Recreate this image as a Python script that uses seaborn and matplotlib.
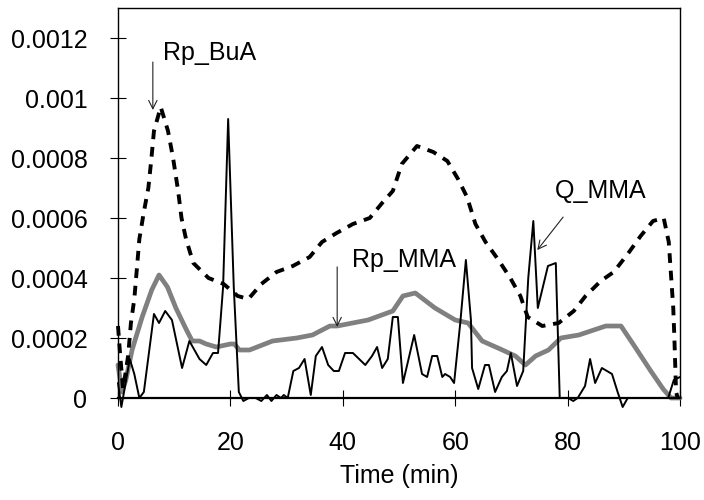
"""Rp_BuA, Rp_MMA and Q_MMA against time, black and white line chart."""

import matplotlib
matplotlib.use("Agg")
import matplotlib.pyplot as plt
import pandas as pd
import seaborn as sns

# Rp_BuA (thick dashed black)
t_bua = [0, 0.4, 0.9, 1.8, 2.3, 2.9, 3.4, 3.8, 4.6, 5.4, 5.9, 6.4, 7.6, 8.9, 9.8,
         10.7, 11.3, 12.1, 13.4, 16.1, 18.8, 21.3, 23.2, 25.5, 28.2, 31.1, 34.1,
         36.3, 38.9, 41.8, 44.8, 47.0, 48.9, 50.5, 53.2, 56.1, 58.6, 60.5, 62.1,
         63.6, 65.4, 67.7, 69.8, 71.6, 72.9, 75.5, 78.4, 81.1, 83.2, 85.9, 88.2,
         90.7, 93.0, 95.2, 97.1, 98.0, 98.4, 98.8, 99.0, 99.3, 99.6]
v_bua = [0.00024, 0.00014, 0.00003, 0.00014, 0.00025, 0.00033, 0.00044, 0.00053,
         0.00062, 0.0007, 0.00079, 0.00089, 0.00097, 0.00089, 0.0008, 0.00069,
         0.0006, 0.00053, 0.00045, 0.0004, 0.00038, 0.00034, 0.00033, 0.00038,
         0.00042, 0.00044, 0.00047, 0.00052, 0.00055, 0.00058, 0.0006, 0.00065,
         0.00069, 0.00078, 0.00084, 0.00082, 0.00079, 0.00073, 0.00067, 0.00058,
         0.00052, 0.00046, 0.0004, 0.00034, 0.00027, 0.00024, 0.00025, 0.00029,
         0.00034, 0.00039, 0.00042, 0.00048, 0.00054, 0.00059, 0.0006, 0.00052,
         0.00041, 0.0003, 0.0002, 0.00002, 0.0]

# Rp_MMA (thick grey)
t_mma = [0, 0.7, 1.4, 2.5, 4.3, 6.0, 7.3, 8.8, 10.3, 12.1, 13.2, 14.5, 15.7, 17.5,
         20.0, 20.7, 21.6, 23.4, 27.5, 31.8, 34.6, 37.7, 39.0, 44.5, 48.9, 50.7,
         52.9, 56.4, 60.0, 62.3, 64.8, 68.4, 70.7, 72.5, 74.3, 76.6, 78.8, 82.0,
         86.8, 89.5, 92.0, 94.8, 97.0, 98.4, 100]
v_mma = [0.00011, 0.00002, 0.00006, 0.00016, 0.00027, 0.00036, 0.00041, 0.00037,
         0.0003, 0.00023, 0.00019, 0.00019, 0.00018, 0.00017, 0.00018, 0.00018,
         0.00016, 0.00016, 0.00019, 0.0002, 0.00021, 0.00024, 0.00024, 0.00026,
         0.00029, 0.00034, 0.00035, 0.0003, 0.00026, 0.00025, 0.00019, 0.00016,
         0.00014, 0.00011, 0.00014, 0.00016, 0.0002, 0.00021, 0.00024, 0.00024,
         0.00017, 0.00009, 0.00003, 0.0, 0.0]

# Q_MMA (thin black)
t_q = [0, 0.6, 2.1, 2.9, 3.8, 4.6, 6.4, 7.3, 8.4, 9.6, 10.5, 11.4, 12.7, 13.6,
       14.5, 15.7, 16.9, 17.8, 18.7, 19.6, 20.6, 21.5, 22.3, 23.3, 24.5, 25.5,
       26.5, 27.3, 28.2, 29.0, 29.5, 30.2, 31.2, 32.2, 33.2, 34.3, 35.2, 36.3,
       37.4, 38.4, 39.3, 40.4, 41.8, 44.0, 45.2, 46.1, 47.0, 48.0, 48.9, 49.8,
       50.7, 52.7, 54.1, 55.0, 55.9, 56.8, 57.7, 58.2, 59.1, 59.8, 60.9, 61.9,
       62.8, 63.0, 64.1, 65.3, 66.0, 67.1, 68.3, 69.2, 69.9, 71.0, 72.1, 73.0,
       73.9, 74.7, 75.6, 76.5, 77.9, 78.6, 79.2, 80.1, 81.0, 81.8, 83.1, 84.0,
       84.9, 86.1, 87.9, 88.9, 89.8, 90.7, 97.9, 98.9, 100.0]
v_q = [0.00005, -0.00003, 0.00013, 0.00008, 0.0, 0.00002, 0.00028, 0.00025,
       0.00029, 0.00026, 0.00018, 0.0001, 0.00019, 0.00016, 0.00013, 0.00011,
       0.00015, 0.00015, 0.00037, 0.00093, 0.00037, 0.00002, -0.00001, 0.0, 0.0,
       -0.00001, 0.00001, -0.00001, 0.00001, 0.0, 0.00001, 0.0, 0.00009, 0.0001,
       0.00013, 0.00001, 0.00014, 0.00017, 0.00011, 0.00009, 0.00009, 0.00015,
       0.00015, 0.00011, 0.00014, 0.00017, 0.0001, 0.00013, 0.00027, 0.00027,
       0.00005, 0.00021, 0.00008, 0.00007, 0.00014, 0.00014, 0.00007, 0.00008,
       0.00007, 0.00005, 0.00025, 0.00046, 0.00026, 0.0001, 0.00003, 0.00011,
       0.00011, 0.00002, 0.00007, 0.00009, 0.00015, 0.00004, 0.00009, 0.0004,
       0.00059, 0.0003, 0.00037, 0.00044, 0.00045, 0.0, 0.0, 0.0, -0.00001, 0.0,
       0.00004, 0.00013, 0.00005, 0.0001, 0.00008, 0.00002, -0.00003, 0.0, 0.0,
       0.00006, 0.00007]

y_ticks = [0, 0.0002, 0.0004, 0.0006, 0.0008, 0.001, 0.0012]
y_tick_labels = ["0", "0.0002", "0.0004", "0.0006", "0.0008", "0.001", "0.0012"]
x_ticks = [0, 20, 40, 60, 80, 100]


def main() -> None:
    sns.set_style("white")
    plt.rcParams["font.family"] = ["Liberation Sans", "DejaVu Sans"]
    plt.rcParams["text.color"] = "black"
    plt.rcParams["axes.labelcolor"] = "black"
    fs = 18

    fig, ax = plt.subplots(figsize=(7.04, 5.0), dpi=100)
    fig.subplots_adjust(left=118 / 704, right=680 / 704,
                        bottom=1 - 398 / 500, top=1 - 8 / 500)

    df_bua = pd.DataFrame({"t": t_bua, "v": v_bua})
    df_mma = pd.DataFrame({"t": t_mma, "v": v_mma})
    df_q = pd.DataFrame({"t": t_q, "v": v_q})

    sns.lineplot(data=df_q, x="t", y="v", ax=ax, color="black", lw=1.4,
                 clip_on=False, zorder=3)
    sns.lineplot(data=df_mma, x="t", y="v", ax=ax, color="#808080", lw=3.4,
                 clip_on=False, zorder=2)
    sns.lineplot(data=df_bua, x="t", y="v", ax=ax, color="black", lw=2.8,
                 dashes=False, clip_on=False, zorder=4)
    # thick dashes for Rp_BuA
    ax.lines[-1].set_dashes((2.5, 2.0))
    ax.lines[-1].set_dash_capstyle("butt")

    ax.set_xlim(0, 100)
    ax.set_ylim(0, 0.0013)
    ax.set_xticks(x_ticks)
    ax.set_xticklabels([str(x) for x in x_ticks], fontsize=fs)
    ax.set_yticks(y_ticks)
    ax.set_yticklabels(y_tick_labels, fontsize=fs)
    ax.tick_params(direction="inout", length=12, width=0.8, color="black",
                   labelcolor="black", left=True, bottom=True)
    ax.tick_params(axis="y", pad=16)
    ax.tick_params(axis="x", pad=18)
    ax.set_xlabel("Time (min)", fontsize=fs, labelpad=6, color="black")
    ax.set_ylabel("")

    for side in ["top", "right", "left"]:
        ax.spines[side].set_color("black")
        ax.spines[side].set_linewidth(1.0)
    ax.spines["bottom"].set_color("black")
    ax.spines["bottom"].set_linewidth(1.6)

    arrow = dict(arrowstyle="->, head_length=0.6, head_width=0.3",
                 color="#222222", lw=0.8, shrinkA=0, shrinkB=0)
    ax.annotate("", xy=(6.2, 0.00096), xytext=(6.2, 0.00112), arrowprops=arrow)
    ax.text(8.0, 0.00115, "Rp_BuA", fontsize=fs, va="center", ha="left")
    ax.annotate("", xy=(39.0, 0.000237), xytext=(39.0, 0.000437),
                arrowprops=arrow)
    ax.text(41.6, 0.00046, "Rp_MMA", fontsize=fs, va="center", ha="left")
    ax.annotate("", xy=(74.6, 0.000493), xytext=(79.2, 0.000603),
                arrowprops=arrow)
    ax.text(77.8, 0.00069, "Q_MMA", fontsize=fs, va="center", ha="left")

    fig.savefig("out.png", dpi=100)


if __name__ == "__main__":
    main()
